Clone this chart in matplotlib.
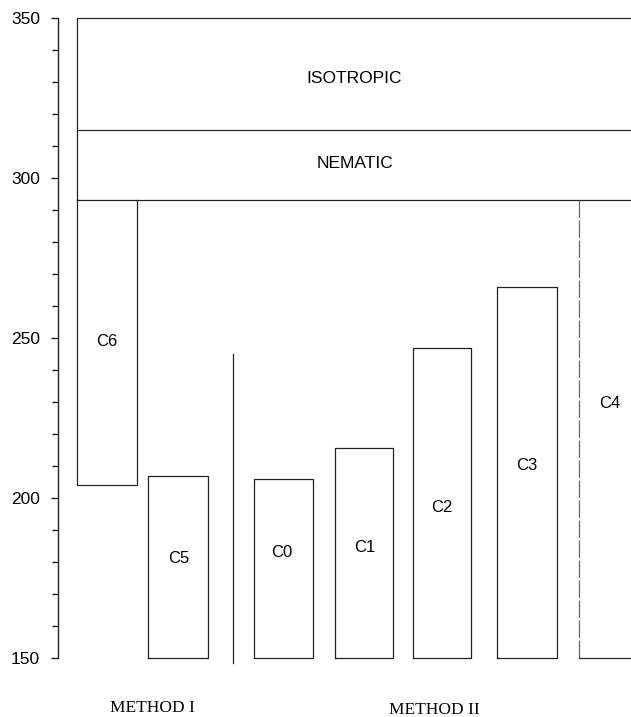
import numpy as np
import matplotlib.pyplot as plt
from matplotlib.ticker import MultipleLocator

plt.rcParams['font.family'] = ['Liberation Sans', 'DejaVu Sans']

# ------------------------------
# data (temperatures, K)
# ------------------------------
samples = ['C6', 'C5', 'C0', 'C1', 'C2', 'C3', 'C4']
t_low = [204, 150, 150, 150, 150, 150, 150]
t_high = [293, 207, 206, 215.5, 247, 266, 293]
t_cn = 293     # crystal -> nematic
t_ni = 315     # nematic -> isotropic
t_max = 350
t_sep = 245    # top of the method separator
phases = ['ISOTROPIC', 'NEMATIC']
methods = ['METHOD I', 'METHOD II']

# layout (x in axis units)
x_left = [77, 148, 254, 335, 413, 497, 579]
x_right = [137, 208, 313, 393, 471, 557, 640]
label_y = [249, 181, 183, 184.5, 197, 210, 229.5]
label_x = [107, 179, 282, 365, 442, 527, 610]
x_sep = 233
x_end = 631
lc = '#222222'
lw = 0.9

fig = plt.figure(figsize=(6.31, 7.17), dpi=100)
ax = fig.add_axes([58/631, 59/717, 573/631, 640/717])
ax.set_xlim(58, 631)
ax.set_ylim(150, 350)

# bars C5..C3 (closed boxes)
for i in range(1, 6):
    l, r, lo, hi = x_left[i], x_right[i], t_low[i], t_high[i]
    ax.plot([l, l, r, r, l], [lo, hi, hi, lo, lo], color=lc, lw=lw,
            clip_on=False)

# C6 + phase region outline
l6, r6 = x_left[0], x_right[0]
ax.plot([x_end, l6, l6, r6, r6], [t_max, t_max, t_low[0], t_low[0], t_high[0]],
        color=lc, lw=lw, clip_on=False)
ax.plot([l6, x_end], [t_ni, t_ni], color=lc, lw=lw, clip_on=False)
ax.plot([l6, x_end], [t_cn, t_cn], color=lc, lw=lw, clip_on=False)

# C4 (open to the right)
l4 = x_left[6]
ax.plot([l4, l4], [t_high[6], t_low[6]], color='#666666', lw=lw,
        ls=(0, (14, 2)), clip_on=False)
ax.plot([l4, x_end], [t_low[6], t_low[6]], color=lc, lw=lw, clip_on=False)

# method separator
ax.plot([x_sep, x_sep], [148.3, t_sep], color=lc, lw=lw, clip_on=False)

# labels
for s, xx, yy in zip(samples, label_x, label_y):
    ax.text(xx, yy, s, ha='center', va='center', fontsize=12)
ax.text(354, 331, phases[0], ha='center', va='center', fontsize=12.5)
ax.text(355, 304.5, phases[1], ha='center', va='center', fontsize=12.5)

fig.text(152/631, 1 - 708/717, methods[0], ha='center', va='center',
         fontsize=12.5, family='Liberation Serif')
fig.text(434/631, 1 - 710/717, methods[1], ha='center', va='center',
         fontsize=12.5, family='Liberation Serif')

# axis
for side in ['top', 'right', 'bottom']:
    ax.spines[side].set_visible(False)
ax.spines['left'].set_linewidth(1.0)
ax.spines['left'].set_color(lc)
ax.set_xticks([])
ax.set_yticks(np.arange(150, 351, 50))
ax.yaxis.set_minor_locator(MultipleLocator(10))
ax.tick_params(axis='y', which='major', length=5, width=1, labelsize=12.5,
               pad=8, color=lc)
ax.tick_params(axis='y', which='minor', length=4, width=1, color=lc)

plt.savefig('out.png', dpi=100)
